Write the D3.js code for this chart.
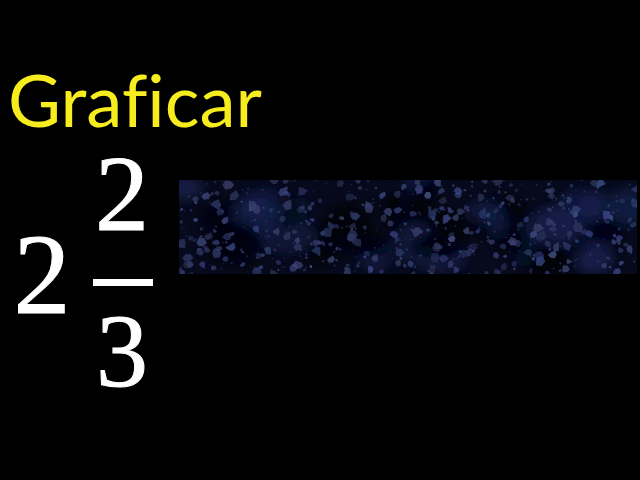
<!DOCTYPE html>
<html><head><meta charset="utf-8">
<script src="https://cdn.jsdelivr.net/npm/d3@7"></script>
<style>html,body{margin:0;padding:0;background:#000;overflow:hidden}</style>
</head><body>
<script>
// ---- data ----
const titleText = ["Graficar"];
const wholePart = [2];
const numerators = [2];
const denominators = [3];
const barCategories = ["2 2/3"];
const barValues = [1];

const W = 640, H = 480;
const svg = d3.select("body").append("svg").attr("width", W).attr("height", H)
  .style("background", "#000");

// scales for the bar
const x = d3.scaleLinear().domain([0, 1]).range([179, 637]);
const y = d3.scaleBand().domain(barCategories).range([180, 274]).padding(0);

const defs = svg.append("defs");
defs.append("clipPath").attr("id", "barclip").append("rect")
  .attr("x", x(0)).attr("y", y(barCategories[0]))
  .attr("width", x(barValues[0]) - x(0)).attr("height", y.bandwidth());
const blur = defs.append("filter").attr("id", "soft").attr("x", "-50%").attr("y", "-50%").attr("width", "200%").attr("height", "200%");
blur.append("feGaussianBlur").attr("stdDeviation", 6);

const bars = svg.append("g");
bars.selectAll("rect.bar").data(barValues).join("rect").attr("class", "bar")
  .attr("x", x(0)).attr("y", (d, i) => y(barCategories[i]))
  .attr("width", d => x(d) - x(0)).attr("height", y.bandwidth())
  .attr("fill", "#070a1c");

// decorative texture (deterministic)
const tex = svg.append("g").attr("clip-path", "url(#barclip)");
const rng = d3.randomLcg(0.4217);
const x0 = x(0), x1 = x(barValues[0]), y0 = y(barCategories[0]), y1 = y0 + y.bandwidth();
const clouds = tex.append("g").attr("filter", "url(#soft)");
for (let i = 0; i < 38; i++) {
  clouds.append("ellipse")
    .attr("cx", x0 + rng() * (x1 - x0)).attr("cy", y0 + rng() * (y1 - y0))
    .attr("rx", 10 + rng() * 22).attr("ry", 8 + rng() * 16)
    .attr("fill", rng() < 0.6 ? "#15204d" : "#020309").attr("opacity", 0.5 + rng() * 0.35);
}
const spots = tex.append("g");
for (let i = 0; i < 560; i++) {
  const cx = x0 + rng() * (x1 - x0), cy = y0 + rng() * (y1 - y0);
  const r = 0.8 + Math.pow(rng(), 2.2) * 5;
  const n = 6, pts = [];
  for (let k = 0; k < n; k++) {
    const a = k / n * Math.PI * 2, rr = r * (0.6 + rng() * 0.6);
    pts.push([cx + Math.cos(a) * rr, cy + Math.sin(a) * rr * (0.7 + rng() * 0.5)]);
  }
  const c = d3.hsl(224 + rng() * 10, 0.28 + rng() * 0.14, 0.26 + rng() * 0.12);
  spots.append("path").attr("d", "M" + pts.join("L") + "Z")
    .attr("fill", c.formatHex()).attr("opacity", 0.5 + rng() * 0.4);
}

// title
svg.selectAll("text.title").data(titleText).join("text").attr("class", "title")
  .attr("x", 8).attr("y", 127).text(d => d)
  .attr("font-family", "Lato, 'Open Sans', sans-serif").attr("font-size", 72)
  .style("font-variant-ligatures", "none").style("font-feature-settings", "'liga' 0")
  .attr("fill", "#f6ec1e").attr("textLength", 254).attr("lengthAdjust", "spacingAndGlyphs");

// mixed fraction
const serif = "'Liberation Serif', 'DejaVu Serif', serif";
svg.selectAll("text.whole").data(wholePart).join("text").attr("class", "whole")
  .attr("x", 42).attr("y", 313).attr("text-anchor", "middle").text(d => d)
  .attr("font-family", serif).attr("font-size", 114).attr("fill", "#fff")
  .attr("stroke", "#fff").attr("stroke-width", 1);
svg.selectAll("text.num").data(numerators).join("text").attr("class", "num")
  .attr("x", 122).attr("y", 230).attr("text-anchor", "middle").text(d => d)
  .attr("font-family", serif).attr("font-size", 108).attr("fill", "#fff")
  .attr("stroke", "#fff").attr("stroke-width", 1);
svg.selectAll("text.den").data(denominators).join("text").attr("class", "den")
  .attr("x", 122).attr("y", 386).attr("text-anchor", "middle").text(d => d)
  .attr("font-family", serif).attr("font-size", 104).attr("fill", "#fff")
  .attr("stroke", "#fff").attr("stroke-width", 1);
svg.append("rect").attr("x", 93).attr("y", 279).attr("width", 60).attr("height", 7).attr("fill", "#fff");
</script>
</body></html>
